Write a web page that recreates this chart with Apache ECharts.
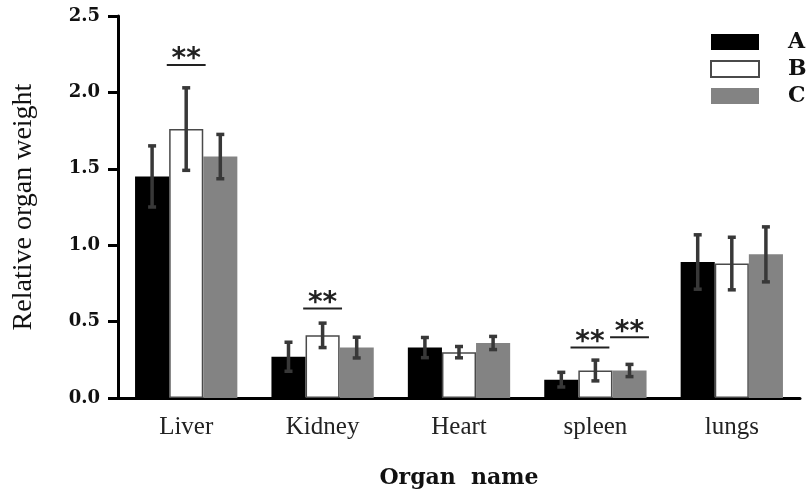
<!DOCTYPE html>
<html><head><meta charset="utf-8">
<script src="https://cdn.jsdelivr.net/npm/echarts@6/dist/echarts.min.js"></script>
<style>html,body{margin:0;padding:0;background:#fff}#c{width:808px;height:492px}</style>
</head><body><div id="c"></div>
<script>
const categories = ['Liver', 'Kidney', 'Heart', 'spleen', 'lungs'];
const seriesNames = ['A', 'B', 'C'];
const meanA = [1.45, 0.27, 0.33, 0.12, 0.89];
const meanB = [1.76, 0.41, 0.30, 0.18, 0.88];
const meanC = [1.58, 0.33, 0.36, 0.18, 0.94];
const errA = [0.20, 0.095, 0.066, 0.048, 0.178];
const errB = [0.27, 0.08, 0.037, 0.068, 0.172];
const errC = [0.145, 0.068, 0.043, 0.04, 0.18];
const yMin = 0, yMax = 2.5, yStep = 0.5;
// significance marks: [category index, bar position (0=A,1=B,2=C), y value]
const sigCat = [0, 1, 3, 3];
const sigPos = [1, 1, 0.84, 2];
const sigY = [2.18, 0.585, 0.33, 0.397];
const sigText = ['**', '**', '**', '**'];

const means = [meanA, meanB, meanC];
const errs = [errA, errB, errC];
const errData = [];
for (let s = 0; s < 3; s++) {
  for (let i = 0; i < categories.length; i++) {
    errData.push([i, means[s][i] - errs[s][i], means[s][i] + errs[s][i], s]);
  }
}
const sigData = sigCat.map((c, k) => [c, sigY[k], sigPos[k], k]);

function barCenterX(api, cat, pos) {
  const c = api.coord([cat, 0]);
  const band = api.size([1, 0])[0];
  const bw = band * 0.75 / 3;
  return [c[0] + (pos - 1) * bw, bw];
}

const chart = echarts.init(document.getElementById('c'), null, {renderer: 'canvas'});
const styles = [
  {color: '#000000', borderColor: '#000000', borderWidth: 0},
  {color: '#ffffff', borderColor: '#4a4a4a', borderWidth: 1.5},
  {color: '#838383', borderColor: '#838383', borderWidth: 0}
];
const barSeries = seriesNames.map((n, s) => ({
  name: n, type: 'bar', data: means[s], barGap: '0%', barCategoryGap: '25%',
  itemStyle: styles[s], emphasis: {disabled: true}, z: 2
}));

chart.setOption({
  animation: false,
  backgroundColor: '#fff',
  grid: {left: 118, right: 8, top: 16, bottom: 94, containLabel: false, outerBoundsMode: 'none'},
  legend: {
    orient: 'vertical', left: 710, top: 31, data: seriesNames, padding: 0,
    icon: 'rect',
    itemWidth: 48, itemHeight: 16, itemGap: 5,
    textStyle: {fontFamily: 'DejaVu Serif', fontWeight: 'bold', fontSize: 22, color: '#111', padding: [0, 0, 0, 24]},
    selectedMode: false
  },
  xAxis: {
    type: 'category', data: categories,
    name: 'Organ  name', nameLocation: 'middle', nameGap: 69,
    nameTextStyle: {fontFamily: 'DejaVu Serif', fontWeight: 'bold', fontSize: 22, color: '#111'},
    axisLine: {lineStyle: {color: '#000', width: 3}},
    axisTick: {show: false},
    axisLabel: {fontFamily: 'Liberation Serif', fontSize: 25, color: '#222', margin: 17}
  },
  yAxis: {
    type: 'value', min: yMin, max: yMax, interval: yStep,
    name: 'Relative organ weight', nameLocation: 'middle', nameGap: 80,
    nameTextStyle: {fontFamily: 'Liberation Serif', fontSize: 28, color: '#111'},
    axisLine: {show: true, lineStyle: {color: '#000', width: 3}},
    axisTick: {show: true, length: 10, lineStyle: {color: '#000', width: 3}},
    splitLine: {show: false},
    axisLabel: {fontFamily: 'DejaVu Serif', fontWeight: 'bold', fontSize: 18, color: '#111', margin: 18,
      formatter: v => v.toFixed(1)}
  },
  series: barSeries.concat([
    {
      type: 'custom', name: 'err', data: errData, z: 5, clip: false,
      encode: {x: 0, y: [1, 2]},
      renderItem: function (params, api) {
        const cat = api.value(0), lo = api.value(1), hi = api.value(2), s = api.value(3);
        const xc = barCenterX(api, cat, s)[0];
        const pLo = api.coord([cat, lo])[1], pHi = api.coord([cat, hi])[1];
        const cap = 4;
        const st = {stroke: '#383838', lineWidth: 3.5};
        return {type: 'group', children: [
          {type: 'line', shape: {x1: xc, y1: pLo, x2: xc, y2: pHi}, style: st},
          {type: 'line', shape: {x1: xc - cap, y1: pLo, x2: xc + cap, y2: pLo}, style: st},
          {type: 'line', shape: {x1: xc - cap, y1: pHi, x2: xc + cap, y2: pHi}, style: st}
        ]};
      }
    },
    {
      type: 'custom', name: 'sig', data: sigData, z: 6, clip: false,
      encode: {x: 0, y: 1},
      renderItem: function (params, api) {
        const cat = api.value(0), yv = api.value(1), pos = api.value(2), k = api.value(3);
        const r = barCenterX(api, cat, pos);
        const xc = r[0], half = r[1] * 0.57;
        const py = api.coord([cat, yv])[1];
        return {type: 'group', children: [
          {type: 'line', shape: {x1: xc - half, y1: py, x2: xc + half, y2: py}, style: {stroke: '#222', lineWidth: 2}},
          {type: 'text', x: xc, y: py + 9, style: {text: sigText[k], fontFamily: 'DejaVu Sans', fontWeight: 'bold', fontSize: 28, fill: '#222', align: 'center', verticalAlign: 'bottom'}}
        ]};
      }
    }
  ])
});
</script></body></html>
